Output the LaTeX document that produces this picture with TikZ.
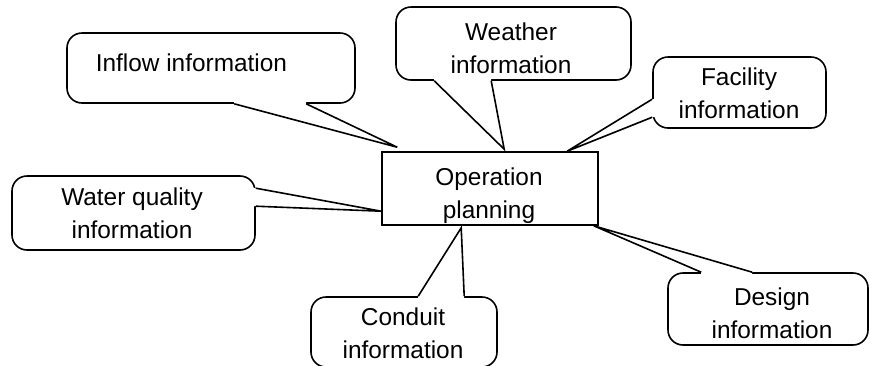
\documentclass[tikz,border=0pt]{standalone}
\usepackage{fontspec}
\setmainfont{Liberation Sans}
\usetikzlibrary{calc}
% tail of a callout: #1,#2 base points on the bubble edge, #3 tip, #4 inward shift
\newcommand\bubbletail[4]{%
  \fill[white] ($(#1)+#4$) -- (#1) -- (#3) -- (#2) -- ($(#2)+#4$) -- cycle;
  \draw (#1) -- (#3) -- (#2);}
\begin{document}
\begin{tikzpicture}[x=1pt,y=-1pt,
  line width=1.6pt,
  every node/.style={inner sep=0pt},
  caption/.style={font=\fontsize{24.4}{32.5}\selectfont, align=center, anchor=base},
  bubble/.style={draw, rounded corners=15pt, fill=white}]
\useasboundingbox (0,0) rectangle (870,365);
\clip (0,0) rectangle (870,365);

% central box (outline drawn last)
\node[minimum width=214pt, minimum height=71pt] (op) at (490,188.5) {};

% callout bubbles
\node[bubble, minimum width=288pt, minimum height=70pt] (inflow)   at (211,68)    {};
\node[bubble, minimum width=235pt, minimum height=73pt] (weather)  at (513.5,43.5) {};
\node[bubble, minimum width=173pt, minimum height=71pt] (facility) at (739.5,92.5) {};
\node[bubble, minimum width=243pt, minimum height=74pt] (quality)  at (133.5,213) {};
\node[bubble, minimum width=186pt, minimum height=70pt] (conduit)  at (404,332)   {};
\node[bubble, minimum width=200pt, minimum height=72pt] (design)   at (768,309)   {};

% tail base points and tips
\coordinate (inflowA) at ($(inflow.south west)+(168,0)$);
\coordinate (inflowB) at ($(inflow.south west)+(240,0)$);
\coordinate (inflowT) at ($(op.north west)+(15,-5)$);

\coordinate (weatherA) at ($(weather.south west)+(39,0)$);
\coordinate (weatherB) at ($(weather.south west)+(96,0)$);
\coordinate (weatherT) at ($(op.north west)+(122,-3)$);

\coordinate (facilityA) at ($(facility.north west)+(0,43)$);
\coordinate (facilityB) at ($(facility.north west)+(0,61)$);
\coordinate (facilityT) at ($(op.north west)+(185,-1)$);

\coordinate (qualityA) at ($(quality.north east)+(0,13)$);
\coordinate (qualityB) at ($(quality.north east)+(0,31)$);
\coordinate (qualityT) at ($(op.north west)+(-1,59)$);

\coordinate (conduitA) at ($(conduit.north west)+(108,0)$);
\coordinate (conduitB) at ($(conduit.north west)+(154,0)$);
\coordinate (conduitT) at ($(op.south west)+(79,3)$);

\coordinate (designA) at ($(design.north west)+(34,0)$);
\coordinate (designB) at ($(design.north west)+(85,0)$);
\coordinate (designT) at ($(op.south east)+(-4,1)$);

\bubbletail{inflowA}{inflowB}{inflowT}{(0,-3)}
\bubbletail{weatherA}{weatherB}{weatherT}{(0,-3)}
\bubbletail{facilityA}{facilityB}{facilityT}{(3,0)}
\bubbletail{qualityA}{qualityB}{qualityT}{(-3,0)}
\bubbletail{conduitA}{conduitB}{conduitT}{(0,3)}
\bubbletail{designA}{designB}{designT}{(0,3)}

\draw (op.north west) rectangle (op.south east);

% texts (anchored on the baseline of the last line)
\node[caption, anchor=base west] (inflowtext) at (95,71) {Inflow information};
\node[caption] (weathertext)  at (511,73)  {Weather\\information};
\node[caption] (facilitytext) at (739,118) {Facility\\information};
\node[caption] (qualitytext)  at (132,238) {Water quality\\information};
\node[caption] (conduittext)  at (403,358) {Conduit\\information};
\node[caption] (designtext)   at (772,338) {Design\\information};
\node[caption] (optext)       at (489,218) {Operation\\planning};
\end{tikzpicture}
\end{document}
